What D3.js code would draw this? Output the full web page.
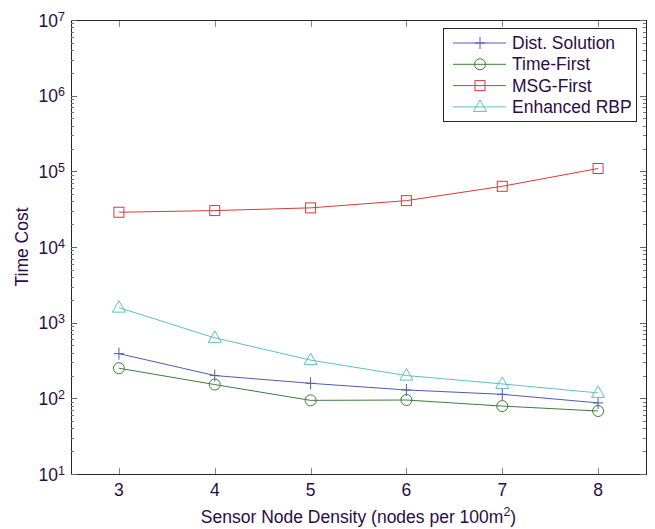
<!DOCTYPE html>
<html><head><meta charset="utf-8">
<script src="https://cdn.jsdelivr.net/npm/d3@7"></script>
<style>body{margin:0;background:#fff}text{font-family:"Liberation Sans",Arial,sans-serif}</style>
</head><body>
<svg id="c" width="655" height="529"></svg>
<script>
const xValues = [3, 4, 5, 6, 7, 8];
const distSolution = [390, 200, 158, 129, 113, 87];
const timeFirst = [250, 152, 94, 95, 79, 68];
const msgFirst = [28800, 30300, 32900, 41000, 63400, 109000];
const enhancedRBP = [1580, 630, 320, 200, 155, 118];
const seriesNames = ["Dist. Solution", "Time-First", "MSG-First", "Enhanced RBP"];
const xTicks = [3, 4, 5, 6, 7, 8];
const yExponents = [1, 2, 3, 4, 5, 6, 7];

const svg = d3.select("#c");
const L = 71, R = 646, T = 20, B = 474;
const textColor = "#2d0c45";
const FS = 17.5;
const x = d3.scaleLinear().domain([2.5, 8.5]).range([L, R]);
const y = d3.scaleLog().domain([10, 1e7]).range([B, T]);

// frame
svg.append("rect").attr("x", L + 0.5).attr("y", T + 0.5).attr("width", R - L).attr("height", B - T)
  .attr("fill", "none").attr("stroke", "#262626").attr("stroke-width", 1);

// x ticks
xTicks.forEach(v => {
  const px = Math.round(x(v)) + 0.5;
  svg.append("line").attr("x1", px).attr("x2", px).attr("y1", B).attr("y2", B - 6).attr("stroke", "#888");
  svg.append("line").attr("x1", px).attr("x2", px).attr("y1", T + 1).attr("y2", T + 7).attr("stroke", "#888");
  svg.append("text").attr("x", x(v)).attr("y", 496).attr("text-anchor", "middle")
    .attr("font-size", FS).attr("fill", textColor).text(v);
});

// y ticks
yExponents.forEach(e => {
  const base = Math.pow(10, e);
  const py = Math.round(y(base)) + 0.5;
  [[L, L + 6], [R, R - 6]].forEach(([a, b]) =>
    svg.append("line").attr("x1", a).attr("x2", b).attr("y1", py).attr("y2", py).attr("stroke", "#666"));
  const t = svg.append("text").attr("x", L - 6).attr("y", y(base) + 6.5).attr("text-anchor", "end")
    .attr("font-size", FS).attr("fill", textColor);
  t.append("tspan").text("10");
  t.append("tspan").attr("dy", -6).attr("font-size", 12.5).text(e);
  if (e < 7) {
    for (let m = 2; m <= 9; m++) {
      const my = Math.round(y(m * base)) + 0.5;
      [[L, L + 3], [R, R - 3]].forEach(([a, b]) =>
        svg.append("line").attr("x1", a).attr("x2", b).attr("y1", my).attr("y2", my).attr("stroke", "#777"));
    }
  }
});

// axis labels
svg.append("text").attr("transform", `translate(28,${(T + B) / 2}) rotate(-90)`)
  .attr("text-anchor", "middle").attr("font-size", FS).attr("fill", textColor).text("Time Cost");
const xl = svg.append("text").attr("x", (L + R) / 2).attr("y", 523).attr("text-anchor", "middle")
  .attr("font-size", FS).attr("fill", textColor);
xl.append("tspan").text("Sensor Node Density (nodes per 100m");
xl.append("tspan").attr("dy", -7).attr("font-size", 12.5).text("2");
xl.append("tspan").attr("dy", 7).text(")");

const series = [
  {name: seriesNames[0], vals: distSolution, color: "#4a5db8", marker: "plus"},
  {name: seriesNames[1], vals: timeFirst, color: "#3f7d3f", marker: "circle"},
  {name: seriesNames[2], vals: msgFirst, color: "#d63c3c", marker: "square"},
  {name: seriesNames[3], vals: enhancedRBP, color: "#5fc0c0", marker: "triangle"}
];

function drawMarker(g, type, cx, cy, color) {
  if (type === "plus") {
    g.append("path").attr("d", `M${cx - 5},${cy}H${cx + 5}M${cx},${cy - 6}V${cy + 6}`)
      .attr("stroke", color).attr("fill", "none");
  } else if (type === "circle") {
    g.append("circle").attr("cx", cx).attr("cy", cy).attr("r", 5.5).attr("stroke", color).attr("fill", "none");
  } else if (type === "square") {
    g.append("rect").attr("x", cx - 5).attr("y", cy - 5).attr("width", 10).attr("height", 10)
      .attr("stroke", color).attr("fill", "none");
  } else {
    g.append("path").attr("d", `M${cx},${cy - 7}L${cx + 6.5},${cy + 4.5}L${cx - 6.5},${cy + 4.5}Z`)
      .attr("stroke", color).attr("fill", "none");
  }
}

const line = d3.line().x((d, i) => x(xValues[i])).y(d => y(d));
series.forEach(s => {
  svg.append("path").datum(s.vals).attr("d", line).attr("fill", "none").attr("stroke", s.color).attr("stroke-width", 1);
  const g = svg.append("g");
  s.vals.forEach((v, i) => drawMarker(g, s.marker, x(xValues[i]), y(v), s.color));
});

// legend
const lg = svg.append("g");
lg.append("rect").attr("x", 443.5).attr("y", 28.5).attr("width", 193).attr("height", 93)
  .attr("fill", "#fff").attr("stroke", "#262626");
series.forEach((s, i) => {
  const ly = 43 + i * 21.3;
  lg.append("line").attr("x1", 453).attr("x2", 506).attr("y1", ly).attr("y2", ly).attr("stroke", s.color);
  drawMarker(lg, s.marker, 480, ly, s.color);
  lg.append("text").attr("x", 512).attr("y", ly + 6).attr("font-size", FS).attr("fill", textColor).text(s.name);
});
</script>
</body></html>
